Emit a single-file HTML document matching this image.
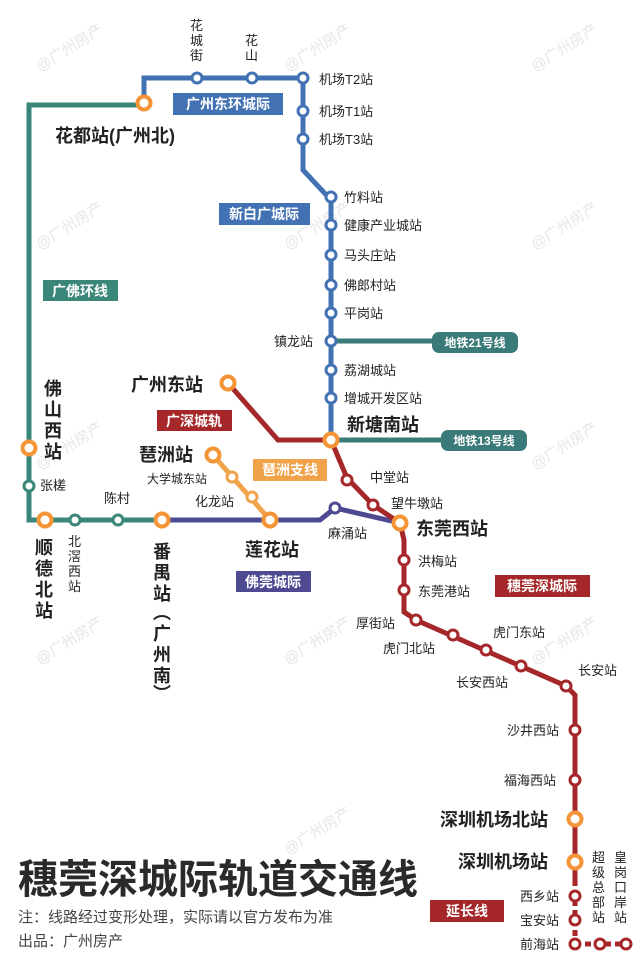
<!DOCTYPE html>
<html><head><meta charset="utf-8"><style>
body{margin:0;background:#fff}
svg{display:block}
text{font-family:"Liberation Sans","Noto Sans CJK SC",sans-serif}
</style></head><body>
<svg width="640" height="964" viewBox="0 0 640 964" xmlns="http://www.w3.org/2000/svg">
<g fill="#e6e6e6" font-size="15">
<text transform="translate(40,72) rotate(-32)">@广州房产</text>
<text transform="translate(288,72) rotate(-32)">@广州房产</text>
<text transform="translate(535,72) rotate(-32)">@广州房产</text>
<text transform="translate(40,250) rotate(-32)">@广州房产</text>
<text transform="translate(288,250) rotate(-32)">@广州房产</text>
<text transform="translate(535,250) rotate(-32)">@广州房产</text>
<text transform="translate(40,470) rotate(-32)">@广州房产</text>
<text transform="translate(535,470) rotate(-32)">@广州房产</text>
<text transform="translate(40,665) rotate(-32)">@广州房产</text>
<text transform="translate(288,665) rotate(-32)">@广州房产</text>
<text transform="translate(535,665) rotate(-32)">@广州房产</text>
<text transform="translate(288,855) rotate(-32)">@广州房产</text>
</g>
<g fill="none" stroke-width="5" stroke-linejoin="miter">
<polyline points="144,105 29,105 29,520 162,520" stroke="#3a8679"/>
<polyline points="144,103 144,78 303,78 303,170 331,200 331,440" stroke="#4272b3"/>
<line x1="331" y1="341" x2="440" y2="341" stroke="#3a7a78"/>
<line x1="331" y1="440" x2="450" y2="440" stroke="#3a7a78"/>
<polyline points="162,520 320,520 335,508 400,523" stroke="#4e4a92"/>
<polyline points="213,455 270,520" stroke="#f0a34a" stroke-width="5"/>
<polyline points="228,383 278,440 331,440 347,478 373,505 400,523 404,540 404,612 416,620 566,686 575,695 575,880" stroke="#a5272a"/>
<line x1="575" y1="880" x2="575" y2="944" stroke="#a5272a" stroke-dasharray="6 4"/>
<line x1="575" y1="944" x2="626" y2="944" stroke="#a5272a" stroke-dasharray="6 4"/>
</g>
<g fill="#fff" stroke-width="3">
<g stroke="#4272b3">
<circle cx="197" cy="78" r="5"/><circle cx="252" cy="78" r="5"/><circle cx="303" cy="78" r="5"/>
<circle cx="303" cy="111" r="5"/><circle cx="303" cy="139" r="5"/>
<circle cx="331" cy="197" r="5"/><circle cx="331" cy="225" r="5"/><circle cx="331" cy="255" r="5"/>
<circle cx="331" cy="285" r="5"/><circle cx="331" cy="313" r="5"/><circle cx="331" cy="341" r="5"/>
<circle cx="331" cy="370" r="5"/><circle cx="331" cy="398" r="5"/>
</g>
<g stroke="#3a8679">
<circle cx="29" cy="486" r="5"/><circle cx="75" cy="520" r="5"/><circle cx="118" cy="520" r="5"/>
</g>
<circle cx="335" cy="508" r="5" stroke="#4e4a92"/>
<g stroke="#f0a34a"><circle cx="232" cy="477" r="5"/><circle cx="252" cy="497" r="5"/></g>
<g stroke="#a5272a">
<circle cx="347" cy="480" r="5"/><circle cx="373" cy="505" r="5"/>
<circle cx="404" cy="560" r="5"/><circle cx="404" cy="590" r="5"/>
<circle cx="416" cy="620" r="5"/><circle cx="453" cy="635" r="5"/><circle cx="486" cy="650" r="5"/>
<circle cx="521" cy="666" r="5"/><circle cx="566" cy="686" r="5"/>
<circle cx="575" cy="730" r="5"/><circle cx="575" cy="780" r="5"/>
<circle cx="575" cy="896" r="5"/><circle cx="575" cy="920" r="5"/><circle cx="575" cy="944" r="5"/>
<circle cx="600" cy="944" r="5"/><circle cx="626" cy="944" r="5"/>
</g>
<g stroke="#f39436" stroke-width="4">
<circle cx="144" cy="103" r="6.5"/><circle cx="228" cy="383" r="6.5"/><circle cx="331" cy="440" r="6.5"/>
<circle cx="29" cy="448" r="6.5"/><circle cx="45" cy="520" r="6.5"/><circle cx="162" cy="520" r="6.5"/>
<circle cx="213" cy="455" r="6.5"/><circle cx="270" cy="520" r="6.5"/><circle cx="400" cy="523" r="6.5"/>
<circle cx="575" cy="819" r="6.5"/><circle cx="575" cy="862" r="6.5"/>
</g>
</g>
<g font-weight="bold" fill="#fff" font-size="14">
<rect x="173" y="93" width="110" height="22" fill="#4272b3"/><text x="228" y="109" text-anchor="middle">广州东环城际</text>
<rect x="219" y="203" width="91" height="22" fill="#4272b3"/><text x="264" y="219" text-anchor="middle">新白广城际</text>
<rect x="43" y="280" width="75" height="21" fill="#3a8679"/><text x="80" y="296" text-anchor="middle">广佛环线</text>
<rect x="432" y="332" width="86" height="21" rx="7" fill="#3a7a78"/><text x="475" y="347" text-anchor="middle" font-size="12">地铁21号线</text>
<rect x="441" y="430" width="86" height="21" rx="7" fill="#3a7a78"/><text x="484" y="445" text-anchor="middle" font-size="12">地铁13号线</text>
<rect x="157" y="410" width="75" height="21" fill="#a5272a"/><text x="194" y="426" text-anchor="middle">广深城轨</text>
<rect x="253" y="459" width="74" height="22" fill="#f0a34a"/><text x="290" y="475" text-anchor="middle">琶洲支线</text>
<rect x="236" y="571" width="75" height="21" fill="#4e4a92"/><text x="273" y="587" text-anchor="middle">佛莞城际</text>
<rect x="495" y="575" width="95" height="22" fill="#a5272a"/><text x="542" y="591" text-anchor="middle">穗莞深城际</text>
<rect x="430" y="900" width="74" height="22" fill="#a5272a"/><text x="467" y="916" text-anchor="middle">延长线</text>
</g>
<g fill="#222" font-size="13">
<text x="190" y="30">花</text><text x="190" y="45">城</text><text x="190" y="60">街</text>
<text x="245" y="45">花</text><text x="245" y="60">山</text>
<text x="319" y="84">机场T2站</text><text x="319" y="116">机场T1站</text><text x="319" y="144">机场T3站</text>
<text x="344" y="202">竹料站</text><text x="344" y="230">健康产业城站</text><text x="344" y="260">马头庄站</text>
<text x="344" y="290">佛郎村站</text><text x="344" y="318">平岗站</text><text x="274" y="346">镇龙站</text>
<text x="344" y="375">荔湖城站</text><text x="344" y="403">增城开发区站</text>
<text x="40" y="490">张槎</text><text x="104" y="503">陈村</text>
<text x="68" y="546">北</text><text x="68" y="561">滘</text><text x="68" y="576">西</text><text x="68" y="591">站</text>
<text x="147" y="483" font-size="12">大学城东站</text><text x="195" y="506">化龙站</text>
<text x="328" y="538">麻涌站</text><text x="370" y="482">中堂站</text><text x="391" y="508">望牛墩站</text>
<text x="418" y="566">洪梅站</text><text x="418" y="596">东莞港站</text>
<text x="356" y="628">厚街站</text><text x="383" y="653">虎门北站</text><text x="493" y="637">虎门东站</text>
<text x="456" y="687">长安西站</text><text x="578" y="675">长安站</text>
<text x="507" y="735">沙井西站</text><text x="504" y="785">福海西站</text>
<text x="520" y="901">西乡站</text><text x="520" y="925">宝安站</text><text x="520" y="949">前海站</text>
<text x="592" y="862">超</text><text x="592" y="877">级</text><text x="592" y="892">总</text><text x="592" y="907">部</text><text x="592" y="922">站</text>
<text x="614" y="862">皇</text><text x="614" y="877">岗</text><text x="614" y="892">口</text><text x="614" y="907">岸</text><text x="614" y="922">站</text>
</g>
<g fill="#222" font-weight="bold" font-size="18">
<text x="55" y="142">花都站(广州北)</text>
<text x="131" y="391">广州东站</text>
<text x="139" y="461">琶洲站</text>
<text x="347" y="431">新塘南站</text>
<text x="245" y="556">莲花站</text>
<text x="416" y="535">东莞西站</text>
<text x="440" y="826">深圳机场北站</text>
<text x="458" y="868">深圳机场站</text>
<text x="44" y="395">佛</text><text x="44" y="416">山</text><text x="44" y="437">西</text><text x="44" y="458">站</text>
<text x="35" y="554">顺</text><text x="35" y="575">德</text><text x="35" y="596">北</text><text x="35" y="617">站</text>
<text x="153" y="558">番</text><text x="153" y="579">禺</text><text x="153" y="600">站</text>
<text x="153" y="619">︵</text>
<text x="153" y="640">广</text><text x="153" y="661">州</text><text x="153" y="682">南</text>
<text x="153" y="700">︶</text>
</g>
<text x="18" y="893" font-size="40" font-weight="bold" fill="#2a2a2a">穗莞深城际轨道交通线</text>
<text x="18" y="922" font-size="15" fill="#444">注：线路经过变形处理，实际请以官方发布为准</text>
<text x="18" y="946" font-size="15" fill="#444">出品：广州房产</text>
</svg>
</body></html>
